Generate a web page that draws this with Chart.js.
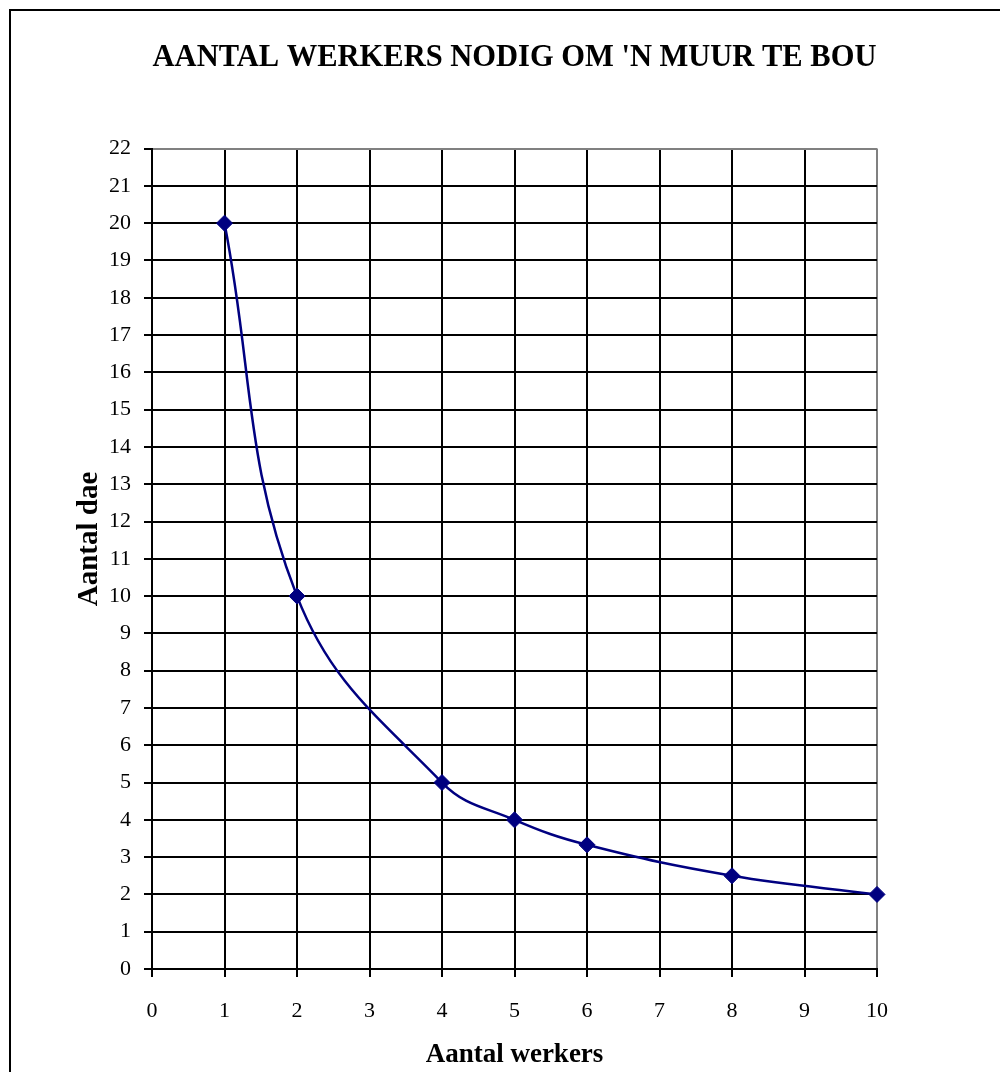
<!DOCTYPE html>
<html>
<head>
<meta charset="utf-8">
<script src="https://cdn.jsdelivr.net/npm/chart.js@4"></script>
<style>
    body { margin: 0; background: #fff; overflow: hidden; }
    #wrap { position: relative; width: 1000px; height: 1072px; }
    #frame {
        position: absolute; left: 9px; top: 9px; width: 1100px; height: 1100px;
        border-left: 2px solid #000; border-top: 2px solid #000; pointer-events: none;
    }
</style>
</head>
<body>
<div id="wrap">
    <canvas id="chart" width="1000" height="1072"></canvas>
    <div id="frame"></div>
</div>
<script>
// Data
const workers = [1, 2, 4, 5, 6, 8, 10];
const days = [20, 10, 5, 4, 3.33, 2.5, 2];

const titleText = "AANTAL WERKERS NODIG OM 'N MUUR TE BOU";
const xTitle = 'Aantal werkers';
const yTitle = 'Aantal dae';

const serif = "'Liberation Serif', 'Times New Roman', serif";
const navy = '#000080';

// plot area edges
const plotLeft = 152;
const plotRight = 877;
const plotBottom = 969;

Chart.defaults.font.family = serif;
Chart.defaults.color = '#000';

// y axis title sits a bit above the middle of the plot in the reference,
// so it is drawn here instead of through the scale title
const yTitlePlugin = {
    id: 'yTitle',
    afterDraw(chart) {
        const c = chart.ctx;
        c.save();
        c.translate(97, 539);
        c.rotate(-Math.PI / 2);
        c.font = 'bold 29px ' + serif;
        c.fillStyle = '#000';
        c.textAlign = 'center';
        c.textBaseline = 'alphabetic';
        c.fillText(yTitle, 0, 0);
        c.restore();
    }
};

const ctx = document.getElementById('chart').getContext('2d');

new Chart(ctx, {
    type: 'line',
    data: {
        datasets: [{
            label: 'Aantal dae',
            data: workers.map((w, i) => ({ x: w, y: days[i] })),
            borderColor: navy,
            backgroundColor: navy,
            borderWidth: 2.5,
            tension: 0.4,
            pointStyle: 'rectRot',
            pointRadius: 8,
            pointBorderWidth: 1,
            pointBorderColor: navy,
            pointBackgroundColor: navy,
            fill: false,
            clip: false
        }]
    },
    options: {
        responsive: false,
        animation: false,
        events: [],
        layout: {
            padding: { top: 0, left: 0, right: 1000 - plotRight, bottom: 0 }
        },
        scales: {
            x: {
                type: 'linear',
                min: 0,
                max: 10,
                afterFit: s => { s.height = 1072 - plotBottom; },
                ticks: {
                    stepSize: 1,
                    padding: 21,
                    font: { size: 22 }
                },
                grid: {
                    color: c => (c.tick && c.tick.value === 10 ? '#808080' : '#000'),
                    lineWidth: 2,
                    tickLength: 8,
                    tickColor: '#000',
                    tickWidth: 2
                },
                border: { color: '#000', width: 2 },
                title: {
                    display: true,
                    text: xTitle,
                    font: { size: 27, weight: 'bold' },
                    padding: { top: 0, bottom: 1 }
                }
            },
            y: {
                min: 0,
                max: 22,
                afterFit: s => { s.width = plotLeft; },
                ticks: {
                    stepSize: 1,
                    padding: 13,
                    font: { size: 22 }
                },
                grid: {
                    color: c => (c.tick && c.tick.value === 22 ? '#808080' : '#000'),
                    lineWidth: 2,
                    tickLength: 8,
                    tickColor: '#000',
                    tickWidth: 2
                },
                border: { color: '#000', width: 2 }
            }
        },
        plugins: {
            legend: { display: false },
            tooltip: { enabled: false },
            title: {
                display: true,
                fullSize: false,
                text: titleText,
                color: '#000',
                font: { size: 30.5, weight: 'bold' },
                padding: { top: 40, bottom: 72 }
            }
        }
    },
    plugins: [yTitlePlugin]
});
</script>
</body>
</html>
